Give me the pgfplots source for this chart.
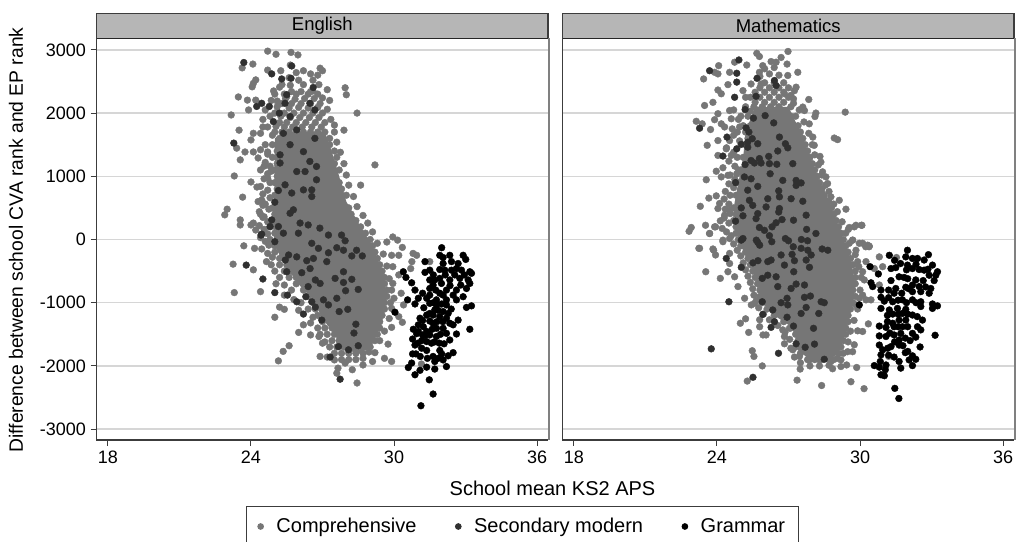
\documentclass[border=0pt]{standalone}
\usepackage{pgfplots}
\usepackage{fontspec}
\setmainfont{Liberation Sans}
\pgfplotsset{compat=1.18}
\definecolor{comp}{HTML}{767676}
\definecolor{secm}{HTML}{303030}
\definecolor{strip}{HTML}{B6B6B6}
\definecolor{gridc}{HTML}{D6D6D6}
\definecolor{frame}{HTML}{3C3C3C}
\pgfplotsset{
  panel/.style={
    anchor=south west, scale only axis, height=401pt,
    xmin=17.52, xmax=36.46, ymin=-3172, ymax=3172,
    xtick={18,24,30,36}, ytick={-3000,-2000,...,3000},
    ymajorgrids, grid style={gridc,line width=1.4pt},
    axis line style={draw=none},
    xtick pos=lower, ytick pos=left, tick align=outside,
    major tick length=6pt, tick style={color=frame,line width=1pt},
    tick label style={font=\fontsize{18}{20}\selectfont},
    /pgf/number format/assume math mode=true,
    /pgf/number format/set thousands separator={},
    xticklabel style={yshift=-1pt}, yticklabel style={xshift=-1pt},
  },
  cmp/.style={only marks, mark=*, mark size=3.4pt, color=comp, mark options={draw=none,fill=comp}},
  sec/.style={only marks, mark=*, mark size=3.4pt, color=secm, mark options={draw=none,fill=secm}},
  gra/.style={only marks, mark=*, mark size=3.4pt, color=black, mark options={draw=none,fill=black}},
}
\begin{document}
\begin{tikzpicture}[x=1pt,y=1pt]
\path[use as bounding box] (0,0) rectangle (1020,541);

% English
\begin{axis}[panel, at={(96.5pt,101pt)}, width=451.5pt,
  legend columns=3,
  legend style={at={(0.9435,-0.1646)}, anchor=north, draw=frame, line width=1pt,
    font=\fontsize{20}{22}\selectfont, inner xsep=11pt, inner ysep=10pt,
    /tikz/every even column/.append style={column sep=37pt},
    /tikz/every odd column/.append style={column sep=11pt}},
  legend image post style={mark size=2.8pt},
  legend cell align=left]
% solid core where the marks overlap completely
\addplot[fill=comp,draw=none,forget plot] coordinates {
(25.4,1700)(27.1,1700)(27.3,1500)(27.7,1000)(28.0,600)(28.6,200)(29.1,-100)(29.5,-500)(29.7,-900)(29.5,-1300)(29.1,-1650)(28.6,-1800)(27.9,-1750)(27.5,-1500)(27.0,-1250)(26.6,-950)(26.1,-750)(25.5,-450)(25.0,-100)(24.9,300)(25.0,800)(25.0,1300)(25.0,1600)
};
\addplot[cmp] coordinates {
(25.4,2300)(25.9,2300)(26.4,2300)(26.8,2300)
(25.3,2150)(25.7,2150)(26.1,2150)(26.5,2150)(26.9,2150)
(25.0,2000)(25.4,2000)(25.8,2000)(26.2,2000)(26.6,2000)(27.0,2000)
(25.2,1850)(25.5,1850)(25.9,1850)(26.3,1850)(26.7,1850)(27.1,1850)
(25.0,1700)(25.3,1700)(25.6,1700)(25.9,1700)(26.2,1700)(26.5,1700)(26.8,1700)(27.1,1700)
(25.2,1600)(25.5,1600)(25.8,1600)(26.1,1600)(26.4,1600)(26.7,1600)(27.0,1600)(27.3,1600)
(24.9,1500)(25.2,1500)(25.5,1500)(25.8,1500)(26.1,1500)(26.4,1500)(26.7,1500)(27.0,1500)(27.3,1500)
(25.1,1400)(25.4,1400)(25.7,1400)(26.0,1400)(26.3,1400)(26.6,1400)(26.9,1400)(27.2,1400)(27.5,1400)
(24.9,1300)(25.2,1300)(25.5,1300)(25.8,1300)(26.1,1300)(26.4,1300)(26.7,1300)(27.0,1300)(27.3,1300)(27.6,1300)
(25.1,1200)(25.4,1200)(25.7,1200)(26.0,1200)(26.3,1200)(26.6,1200)(26.9,1200)(27.2,1200)(27.5,1200)
(25.0,1100)(25.3,1100)(25.6,1100)(25.9,1100)(26.2,1100)(26.5,1100)(26.8,1100)(27.1,1100)(27.4,1100)(27.7,1100)
(25.1,1000)(25.4,1000)(25.7,1000)(26.0,1000)(26.3,1000)(26.6,1000)(26.9,1000)(27.2,1000)(27.5,1000)
(25.0,900)(25.3,900)(25.6,900)(25.9,900)(26.2,900)(26.5,900)(26.8,900)(27.1,900)(27.4,900)(27.7,900)
(25.1,800)(25.4,800)(25.7,800)(26.0,800)(26.3,800)(26.6,800)(26.9,800)(27.2,800)(27.5,800)(27.8,800)
(25.0,700)(25.3,700)(25.6,700)(25.9,700)(26.2,700)(26.5,700)(26.8,700)(27.1,700)(27.4,700)(27.7,700)(28.0,700)
(25.1,600)(25.4,600)(25.7,600)(26.0,600)(26.3,600)(26.6,600)(26.9,600)(27.2,600)(27.5,600)(27.8,600)
(24.9,500)(25.2,500)(25.5,500)(25.8,500)(26.1,500)(26.4,500)(26.7,500)(27.0,500)(27.3,500)(27.6,500)(27.9,500)(28.1,500)
(25.0,400)(25.3,400)(25.6,400)(25.9,400)(26.2,400)(26.5,400)(26.8,400)(27.1,400)(27.4,400)(27.7,400)(28.0,400)(28.2,400)
(24.9,300)(25.2,300)(25.5,300)(25.8,300)(26.1,300)(26.4,300)(26.7,300)(27.0,300)(27.3,300)(27.6,300)(27.9,300)(28.2,300)(28.4,300)
(24.8,200)(25.1,200)(25.4,200)(25.7,200)(26.0,200)(26.3,200)(26.6,200)(26.9,200)(27.2,200)(27.5,200)(27.8,200)(28.1,200)(28.4,200)(28.6,200)
(25.0,100)(25.3,100)(25.6,100)(25.9,100)(26.2,100)(26.5,100)(26.8,100)(27.1,100)(27.4,100)(27.7,100)(28.0,100)(28.3,100)(28.6,100)(28.8,100)
(24.8,0)(25.1,0)(25.4,0)(25.7,0)(26.0,0)(26.3,0)(26.6,0)(26.9,0)(27.2,0)(27.5,0)(27.8,0)(28.1,0)(28.4,0)(28.7,0)(29.0,0)
(25.0,-100)(25.3,-100)(25.6,-100)(25.9,-100)(26.2,-100)(26.5,-100)(26.8,-100)(27.1,-100)(27.4,-100)(27.7,-100)(28.0,-100)(28.3,-100)(28.6,-100)(28.9,-100)(29.1,-100)
(25.0,-200)(25.3,-200)(25.6,-200)(25.9,-200)(26.2,-200)(26.5,-200)(26.8,-200)(27.1,-200)(27.4,-200)(27.7,-200)(28.0,-200)(28.3,-200)(28.6,-200)(28.9,-200)(29.2,-200)
(25.2,-300)(25.5,-300)(25.8,-300)(26.1,-300)(26.4,-300)(26.7,-300)(27.0,-300)(27.3,-300)(27.6,-300)(27.9,-300)(28.2,-300)(28.5,-300)(28.8,-300)(29.1,-300)(29.3,-300)
(25.2,-400)(25.5,-400)(25.8,-400)(26.1,-400)(26.4,-400)(26.7,-400)(27.0,-400)(27.3,-400)(27.6,-400)(27.9,-400)(28.2,-400)(28.5,-400)(28.8,-400)(29.1,-400)(29.4,-400)
(25.4,-500)(25.7,-500)(26.0,-500)(26.3,-500)(26.6,-500)(26.9,-500)(27.2,-500)(27.5,-500)(27.8,-500)(28.1,-500)(28.4,-500)(28.7,-500)(29.0,-500)(29.3,-500)(29.5,-500)
(25.6,-600)(25.9,-600)(26.2,-600)(26.5,-600)(26.8,-600)(27.1,-600)(27.4,-600)(27.7,-600)(28.0,-600)(28.3,-600)(28.6,-600)(28.9,-600)(29.2,-600)(29.5,-600)(29.6,-600)
(25.9,-700)(26.2,-700)(26.5,-700)(26.8,-700)(27.1,-700)(27.4,-700)(27.7,-700)(28.0,-700)(28.3,-700)(28.6,-700)(28.9,-700)(29.2,-700)(29.5,-700)(29.6,-700)
(26.2,-800)(26.5,-800)(26.8,-800)(27.1,-800)(27.4,-800)(27.7,-800)(28.0,-800)(28.3,-800)(28.6,-800)(28.9,-800)(29.2,-800)(29.5,-800)(29.7,-800)
(26.4,-900)(26.7,-900)(27.0,-900)(27.3,-900)(27.6,-900)(27.9,-900)(28.2,-900)(28.5,-900)(28.8,-900)(29.1,-900)(29.4,-900)(29.7,-900)
(26.6,-1000)(26.9,-1000)(27.2,-1000)(27.5,-1000)(27.8,-1000)(28.1,-1000)(28.4,-1000)(28.7,-1000)(29.0,-1000)(29.3,-1000)(29.6,-1000)
(26.7,-1100)(27.0,-1100)(27.3,-1100)(27.6,-1100)(27.9,-1100)(28.2,-1100)(28.5,-1100)(28.8,-1100)(29.1,-1100)(29.4,-1100)(29.6,-1100)
(26.8,-1200)(27.1,-1200)(27.4,-1200)(27.7,-1200)(28.0,-1200)(28.3,-1200)(28.6,-1200)(28.9,-1200)(29.2,-1200)(29.5,-1200)
(27.0,-1300)(27.3,-1300)(27.6,-1300)(27.9,-1300)(28.2,-1300)(28.5,-1300)(28.8,-1300)(29.1,-1300)(29.4,-1300)
(27.1,-1400)(27.4,-1400)(27.7,-1400)(28.0,-1400)(28.3,-1400)(28.6,-1400)(28.9,-1400)(29.2,-1400)(29.4,-1400)
(27.2,-1500)(27.5,-1500)(27.8,-1500)(28.1,-1500)(28.4,-1500)(28.7,-1500)(29.0,-1500)(29.3,-1500)
(27.4,-1600)(27.7,-1600)(28.0,-1600)(28.3,-1600)(28.6,-1600)(28.9,-1600)(29.2,-1600)
(27.6,-1700)(27.9,-1700)(28.2,-1700)(28.5,-1700)(28.8,-1700)(29.0,-1700)
(27.8,-1800)(28.1,-1800)(28.4,-1800)(28.7,-1800)
(24.6,1500)(24.4,1420)(24.7,1350)(24.3,1290)(24.6,1220)(24.8,1160)(24.4,1100)(24.7,1040)(24.55,960)(24.8,900)(24.4,840)(24.7,780)(24.5,720)(24.8,660)(24.3,600)
(24.6,560)(24.75,480)(24.35,440)(24.55,360)(24.7,280)(24.35,220)(24.55,160)(24.7,90)(24.4,30)(24.6,-30)(24.75,-90)(24.45,-150)(24.7,-220)(24.9,-280)(24.85,-400)
(25.0,-500)(25.2,-600)(25.05,-700)(25.4,-720)(25.7,-800)(25.4,-880)(25.8,-950)(26.1,-1000)(26.0,-1120)(26.4,-1100)(26.6,-1230)(26.5,-1320)(26.8,-1400)(26.9,-1500)
(27.1,-1620)(27.3,-1700)(27.5,-1800)(27.8,-1900)(28.1,-1900)(28.4,-1900)(28.7,-1880)(28.95,-1780)(29.2,-1790)(29.4,-1600)(29.6,-1450)(29.8,-1250)(29.85,-1000)
(29.9,-800)(29.8,-620)(29.7,-420)(29.55,-230)(29.3,-60)(29.1,120)(28.9,260)(28.7,380)(28.45,520)(28.3,680)(28.1,860)(28.0,1020)(27.9,1200)(27.75,1380)(27.6,1540)
(27.5,1700)(27.35,1900)(27.2,2060)(27.3,2200)
(25.1,2100)(25.6,2080)(26.0,2090)(26.4,2080)(26.8,2090)(25.45,2230)(25.85,2220)(26.25,2230)(26.65,2230)(25.7,2340)(26.1,2340)(26.6,2350)(25.25,1950)(25.65,1930)
(26.05,1930)(26.45,1930)(26.85,1930)(25.05,1790)(25.4,1780)(25.75,1780)(26.15,1780)(26.55,1780)(26.95,1780)(24.9,1650)(24.7,1780)(24.5,1900)(24.8,1950)(24.6,2050)
(24.85,2200)(25.0,2300)(25.3,2450)(25.6,2560)(26.2,2450)(26.5,2620)(26.85,2450)(25.9,2640)
(24.7,2980)(25.05,2930)(25.68,2960)(25.97,2920)(24.08,2775)(23.63,2715)(23.47,2255)(23.17,1970)(23.5,1730)(23.85,2205)
(24.1,2470)(24.2,2525)(24.05,2415)(23.9,2050)(24.2,2205)(23.4,1445)(24,1575)(24.1,1680)(24.4,1680)(24.5,1780)
(23.75,1385)(24.1,1385)(23.55,1260)(24.7,1385)(24.55,1160)(24.85,1080)(23.3,1005)(24,910)(24.25,830)(24.7,970)
(23.65,670)(24.45,625)(24.5,540)(23,480)(22.9,390)(23.55,310)(23.55,230)(24.1,260)(24,230)(24.2,150)(24.4,400)(24.5,350)
(24.7,2680)(25.25,2670)(25.65,2760)(26.2,2670)(26.9,2710)(27,2670)(26.8,2600)(26.6,2520)(26,2520)(25.65,2440)(25.2,2410)
(24.95,2350)(25.5,2260)(26.5,2340)(27,2240)(27.2,2370)(25.1,2190)(27.95,2400)(28,2290)(28.45,2000)(29.2,1180)(28.6,860)(27.9,1730)(27.5,1810)
(23.7,-100)(24.15,-140)(23.25,-390)(24.1,-480)(24.65,-350)(23.3,-840)(24.4,-825)(25,-1230)(25.2,-1070)(25.4,-1105)
(25.15,-1920)(25.35,-1770)(25.6,-1680)(26,-1470)(26.2,-1350)(26.5,-1510)(26.85,-1535)(27,-1640)(26.9,-1850)(27.2,-1860)
(27.5,-1905)(27.65,-2035)(27.6,-2115)(27.95,-1955)(28.25,-2060)(28.45,-2270)(28.7,-1985)(29.1,-1930)(29.6,-1880)(29.9,-1930)
(29.75,-1655)(29.9,-1390)(30.35,-1310)(30.2,-1220)(29.9,-1090)(30.4,-1035)(30.3,-850)(30,-930)(29.95,-695)(30.2,-560)
(29.95,-430)(30.2,-250)(30.35,-125)(30.15,-10)(29.95,40)(29.7,-40)(29.9,-250)(30.8,-220)(30.95,-250)(30.75,-350)(30.7,-460)(31.5,-350)(31.15,-1970)
};
\addlegendentry{Comprehensive}
\addplot[sec] coordinates {
(23.7,2800)(23.28,1525)(24.24,2105)(24.45,2155)(24.77,2105)(25.71,2745)(24.87,2620)(25.29,2540)(25.68,2550)(25.5,2290)
(25.43,2155)(26.61,2405)(26.47,2155)(26.68,2050)(25.19,2000)(25.64,1945)(24.94,1865)(25.36,1680)(25.92,1735)(25.64,1500)
(25.22,1340)(25.22,1210)(26.2,1390)(26.47,1235)(26.75,1155)(26.68,1600)(26.27,1075)(25.92,1075)(26.75,945)(25.43,865)
(25.15,775)(25.71,735)(26.2,785)(26.55,785)(26.55,680)(25,590)(25.78,470)(25.64,415)(24.87,310)(24.8,205)(25.15,205)
(26.06,260)(26.4,230)(26.89,180)(25.99,100)(24.45,85)(25.36,100)
(24.42,70)(25,-35)(23.8,-405)(24.5,-625)(25,-840)(25.5,-510)(25.58,-245)(25.92,-275)(25.44,-325)(26.13,-525)(26.34,-335)
(26.62,-300)(26.48,-460)(27.25,70)(26.55,-60)(26.83,-140)(27.25,-210)(27.6,-130)(27.88,-170)(28.43,-170)(28.67,-260)
(28.23,-260)(27.8,70)(27.95,-20)(27.18,-350)(27.88,-510)(27.53,-615)(27.88,-680)(28.23,-630)(28.5,-790)(27.97,-810)
(26.7,-640)(26.9,-695)(26.4,-745)(26.3,-905)(25.92,-985)(25.53,-880)(26.55,-985)(26.7,-1070)(27.04,-955)(27.25,-1035)
(27.6,-930)(26.2,-1180)(26.97,-1275)(27.7,-1140)(28.06,-1105)(28.4,-1340)(28.32,-1480)(28.5,-1680)(27.67,-1695)
(28.09,-1745)(27.32,-1860)(27.74,-2210)
};
\addlegendentry{Secondary modern}
\addplot[gra] coordinates {
(32.0,-130)(32.34,-250)(32.06,-285)(31.92,-250)(32.41,-350)(32.06,-380)(32.9,-250)(33.01,-315)(31.3,-350)(31.5,-485)
(32.69,-380)(32.62,-460)(31.92,-475)(32.13,-485)(32.41,-485)(32.83,-485)(33.18,-510)(33.25,-535)(30.39,-510)(30.5,-600)
(30.74,-685)(31.5,-640)(31.71,-640)(31.92,-615)(32.34,-640)(32.76,-615)(33.11,-640)(31.64,-720)(31.99,-695)(33.18,-695)
(30.88,-800)(31.5,-775)(32.2,-800)(31.92,-850)(32.62,-800)(33.04,-775)(31.5,-880)(32.06,-880)(32.48,-880)(32.9,-905)
(31.02,-930)(31.37,-930)(31.78,-955)(32.2,-955)(32.62,-955)(30.57,-955)(30.88,-1020)(31.5,-1010)(31.78,-1035)(32.2,-1035)
(33.04,-1075)(33.25,-1050)(31.71,-1115)(32.06,-1140)(32.27,-1170)(30.04,-1150)(31.5,-1170)(31.09,-1245)(31.37,-1195)
(31.64,-1195)(31.92,-1220)(32.2,-1245)(32.69,-1275)(32.34,-1325)(32.48,-1350)(31.02,-1350)(31.23,-1380)(31.64,-1325)
(30.81,-1420)(31.02,-1455)(31.37,-1455)(31.78,-1405)(32.06,-1405)(33.18,-1420)(31.5,-1510)(31.78,-1535)(32.2,-1485)
(32.62,-1495)(30.78,-1575)(31.16,-1600)(32.34,-1590)(31.37,-1615)(30.88,-1670)(31.57,-1640)(31.16,-1720)(31.37,-1755)
(31.92,-1755)(30.78,-1810)(30.92,-1810)(32.48,-1790)(32.27,-1840)(31.64,-1850)(31.85,-1880)(32.06,-1905)(31.71,-1930)
(31.37,-2020)(30.74,-1955)(30.6,-2025)(32.2,-2010)(31.71,-2050)(31.09,-2070)(30.88,-2140)(31.48,-2220)(31.64,-2445)(31.13,-2630)
(31.3,-520)(31.65,-560)(32.15,-560)(32.55,-560)(32.95,-560)(31.75,-800)(32.35,-730)(32.8,-720)(31.2,-850)(31.65,-1000)
(32.0,-1020)(32.4,-1100)(31.25,-1080)(31.85,-1120)(31.2,-1280)(31.5,-1290)(31.8,-1300)(32.05,-1300)(30.95,-1490)(31.2,-1510)
(31.6,-1420)(31.95,-1500)(31.0,-1640)(31.3,-1520)(31.7,-1620)(31.9,-1640)(32.1,-1650)(31.1,-1850)(31.4,-1880)(32.0,-1810)
};
\addlegendentry{Grammar}
\end{axis}

% Mathematics
\begin{axis}[panel, at={(562.5pt,101pt)}, width=451.5pt,
  yticklabels={}, ytick style={draw=none}]
\addplot[fill=comp,draw=none,forget plot] coordinates {
(25.6,2100)(27.0,2100)(27.5,1700)(27.9,1300)(28.2,1000)(28.6,700)(29.0,300)(29.3,0)(29.6,-300)(29.8,-700)(29.7,-1000)(29.5,-1300)(29.3,-1600)(29.1,-1800)(28.7,-1900)(27.9,-1900)(27.4,-1750)(27.3,-1500)(27.0,-1350)(26.4,-1200)(25.9,-1000)(25.7,-700)(25.4,-400)(25.0,-100)(24.8,200)(24.7,500)(24.9,900)(25.1,1300)(25.2,1700)
};
\addplot[cmp] coordinates {
(25.8,2400)(26.2,2400)(26.6,2400)(27.0,2400)
(25.4,2250)(25.8,2250)(26.2,2250)(26.6,2250)(27.0,2250)
(25.2,2100)(25.55,2100)(25.9,2100)(26.25,2100)(26.6,2100)(27.1,2100)
(25.0,1950)(25.3,1950)(25.6,1950)(25.9,1950)(26.2,1950)(26.5,1950)(26.8,1950)(27.1,1950)(27.3,1950)
(25.1,1800)(25.4,1800)(25.7,1800)(26.0,1800)(26.3,1800)(26.6,1800)(26.9,1800)(27.2,1800)(27.4,1800)
(25.2,1700)(25.5,1700)(25.8,1700)(26.1,1700)(26.4,1700)(26.7,1700)(27.0,1700)(27.3,1700)(27.5,1700)
(25.3,1600)(25.6,1600)(25.9,1600)(26.2,1600)(26.5,1600)(26.8,1600)(27.1,1600)(27.4,1600)(27.6,1600)
(25.2,1500)(25.5,1500)(25.8,1500)(26.1,1500)(26.4,1500)(26.7,1500)(27.0,1500)(27.3,1500)(27.6,1500)(27.7,1500)
(25.3,1400)(25.6,1400)(25.9,1400)(26.2,1400)(26.5,1400)(26.8,1400)(27.1,1400)(27.4,1400)(27.7,1400)(27.8,1400)
(25.1,1300)(25.4,1300)(25.7,1300)(26.0,1300)(26.3,1300)(26.6,1300)(26.9,1300)(27.2,1300)(27.5,1300)(27.8,1300)(27.9,1300)
(25.2,1200)(25.5,1200)(25.8,1200)(26.1,1200)(26.4,1200)(26.7,1200)(27.0,1200)(27.3,1200)(27.6,1200)(27.9,1200)(28.0,1200)
(25.0,1100)(25.3,1100)(25.6,1100)(25.9,1100)(26.2,1100)(26.5,1100)(26.8,1100)(27.1,1100)(27.4,1100)(27.7,1100)(28.0,1100)(28.1,1100)
(25.1,1000)(25.4,1000)(25.7,1000)(26.0,1000)(26.3,1000)(26.6,1000)(26.9,1000)(27.2,1000)(27.5,1000)(27.8,1000)(28.1,1000)(28.2,1000)
(24.9,900)(25.2,900)(25.5,900)(25.8,900)(26.1,900)(26.4,900)(26.7,900)(27.0,900)(27.3,900)(27.6,900)(27.9,900)(28.2,900)(28.3,900)
(25.0,800)(25.3,800)(25.6,800)(25.9,800)(26.2,800)(26.5,800)(26.8,800)(27.1,800)(27.4,800)(27.7,800)(28.0,800)(28.3,800)(28.4,800)
(24.8,700)(25.1,700)(25.4,700)(25.7,700)(26.0,700)(26.3,700)(26.6,700)(26.9,700)(27.2,700)(27.5,700)(27.8,700)(28.1,700)(28.4,700)(28.5,700)
(24.9,600)(25.2,600)(25.5,600)(25.8,600)(26.1,600)(26.4,600)(26.7,600)(27.0,600)(27.3,600)(27.6,600)(27.9,600)(28.2,600)(28.5,600)(28.7,600)
(24.7,500)(25.0,500)(25.3,500)(25.6,500)(25.9,500)(26.2,500)(26.5,500)(26.8,500)(27.1,500)(27.4,500)(27.7,500)(28.0,500)(28.3,500)(28.6,500)(28.8,500)
(24.8,400)(25.1,400)(25.4,400)(25.7,400)(26.0,400)(26.3,400)(26.6,400)(26.9,400)(27.2,400)(27.5,400)(27.8,400)(28.1,400)(28.4,400)(28.7,400)(28.9,400)
(24.7,300)(25.0,300)(25.3,300)(25.6,300)(25.9,300)(26.2,300)(26.5,300)(26.8,300)(27.1,300)(27.4,300)(27.7,300)(28.0,300)(28.3,300)(28.6,300)(28.9,300)(29.0,300)
(24.8,200)(25.1,200)(25.4,200)(25.7,200)(26.0,200)(26.3,200)(26.6,200)(26.9,200)(27.2,200)(27.5,200)(27.8,200)(28.1,200)(28.4,200)(28.7,200)(29.0,200)(29.1,200)
(24.8,100)(25.1,100)(25.4,100)(25.7,100)(26.0,100)(26.3,100)(26.6,100)(26.9,100)(27.2,100)(27.5,100)(27.8,100)(28.1,100)(28.4,100)(28.7,100)(29.0,100)(29.2,100)
(24.9,0)(25.2,0)(25.5,0)(25.8,0)(26.1,0)(26.4,0)(26.7,0)(27.0,0)(27.3,0)(27.6,0)(27.9,0)(28.2,0)(28.5,0)(28.8,0)(29.1,0)(29.3,0)
(25.0,-100)(25.3,-100)(25.6,-100)(25.9,-100)(26.2,-100)(26.5,-100)(26.8,-100)(27.1,-100)(27.4,-100)(27.7,-100)(28.0,-100)(28.3,-100)(28.6,-100)(28.9,-100)(29.2,-100)(29.4,-100)
(25.2,-200)(25.5,-200)(25.8,-200)(26.1,-200)(26.4,-200)(26.7,-200)(27.0,-200)(27.3,-200)(27.6,-200)(27.9,-200)(28.2,-200)(28.5,-200)(28.8,-200)(29.1,-200)(29.5,-200)
(25.3,-300)(25.6,-300)(25.9,-300)(26.2,-300)(26.5,-300)(26.8,-300)(27.1,-300)(27.4,-300)(27.7,-300)(28.0,-300)(28.3,-300)(28.6,-300)(28.9,-300)(29.2,-300)(29.6,-300)
(25.4,-400)(25.7,-400)(26.0,-400)(26.3,-400)(26.6,-400)(26.9,-400)(27.2,-400)(27.5,-400)(27.8,-400)(28.1,-400)(28.4,-400)(28.7,-400)(29.0,-400)(29.3,-400)(29.7,-400)
(25.5,-500)(25.8,-500)(26.1,-500)(26.4,-500)(26.7,-500)(27.0,-500)(27.3,-500)(27.6,-500)(27.9,-500)(28.2,-500)(28.5,-500)(28.8,-500)(29.1,-500)(29.4,-500)(29.8,-500)
(25.6,-600)(25.9,-600)(26.2,-600)(26.5,-600)(26.8,-600)(27.1,-600)(27.4,-600)(27.7,-600)(28.0,-600)(28.3,-600)(28.6,-600)(28.9,-600)(29.2,-600)(29.5,-600)(29.8,-600)
(25.7,-700)(26.0,-700)(26.3,-700)(26.6,-700)(26.9,-700)(27.2,-700)(27.5,-700)(27.8,-700)(28.1,-700)(28.4,-700)(28.7,-700)(29.0,-700)(29.3,-700)(29.6,-700)(29.8,-700)
(25.8,-800)(26.1,-800)(26.4,-800)(26.7,-800)(27.0,-800)(27.3,-800)(27.6,-800)(27.9,-800)(28.2,-800)(28.5,-800)(28.8,-800)(29.1,-800)(29.4,-800)(29.7,-800)
(25.8,-900)(26.1,-900)(26.4,-900)(26.7,-900)(27.0,-900)(27.3,-900)(27.6,-900)(27.9,-900)(28.2,-900)(28.5,-900)(28.8,-900)(29.1,-900)(29.4,-900)(29.8,-900)
(25.9,-1000)(26.2,-1000)(26.5,-1000)(26.8,-1000)(27.1,-1000)(27.4,-1000)(27.7,-1000)(28.0,-1000)(28.3,-1000)(28.6,-1000)(28.9,-1000)(29.2,-1000)(29.5,-1000)(29.7,-1000)
(26.1,-1100)(26.4,-1100)(26.7,-1100)(27.0,-1100)(27.3,-1100)(27.6,-1100)(27.9,-1100)(28.2,-1100)(28.5,-1100)(28.8,-1100)(29.1,-1100)(29.4,-1100)(29.6,-1100)
(26.4,-1200)(26.7,-1200)(27.0,-1200)(27.3,-1200)(27.6,-1200)(27.9,-1200)(28.2,-1200)(28.5,-1200)(28.8,-1200)(29.1,-1200)(29.5,-1200)
(26.8,-1300)(27.1,-1300)(27.4,-1300)(27.7,-1300)(28.0,-1300)(28.3,-1300)(28.6,-1300)(28.9,-1300)(29.2,-1300)(29.5,-1300)
(27.1,-1400)(27.4,-1400)(27.7,-1400)(28.0,-1400)(28.3,-1400)(28.6,-1400)(28.9,-1400)(29.2,-1400)(29.4,-1400)
(27.3,-1500)(27.6,-1500)(27.9,-1500)(28.2,-1500)(28.5,-1500)(28.8,-1500)(29.1,-1500)(29.4,-1500)
(27.4,-1600)(27.7,-1600)(28.0,-1600)(28.3,-1600)(28.6,-1600)(28.9,-1600)(29.3,-1600)
(27.3,-1700)(27.6,-1700)(27.9,-1700)(28.2,-1700)(28.5,-1700)(28.8,-1700)(29.2,-1700)
(27.5,-1800)(27.8,-1800)(28.1,-1800)(28.4,-1800)(28.7,-1800)(29.1,-1800)
(27.8,-1900)(28.1,-1900)(28.4,-1900)(28.7,-1900)(28.9,-1900)
(24.4,1450)(24.7,1380)(24.85,1300)(24.5,1240)(24.75,1160)(24.9,1100)(24.55,1020)(24.75,950)(24.5,880)(24.7,820)(24.35,760)(24.55,700)(24.3,640)(24.5,560)(24.35,480)
(24.55,410)(24.3,340)(24.5,260)(24.4,120)(24.6,60)(24.7,-70)(24.85,-170)(25.0,-260)(25.1,-370)(25.2,-480)(25.3,-580)(25.4,-680)(25.5,-780)(25.55,-880)(25.65,-970)
(25.75,-1080)(25.95,-1180)(26.2,-1270)(26.55,-1360)(26.85,-1470)(27.05,-1580)(27.1,-1720)(27.25,-1860)(27.5,-1950)(27.9,-2000)(28.3,-2000)(28.7,-1990)(29.05,-1880)
(29.3,-1800)(29.5,-1620)(29.6,-1450)(29.75,-1280)(29.9,-1100)(30.0,-800)(30.05,-600)(29.95,-430)(29.8,-240)(29.55,-60)(29.4,100)(29.25,280)(29.05,440)(28.9,560)
(28.7,760)(28.55,860)(28.4,1020)(28.25,1180)(28.1,1340)(28.0,1500)(27.85,1680)(27.65,1860)(27.45,2050)
(25.4,2030)(25.75,2030)(26.1,2030)(26.45,2030)(26.8,2030)(25.6,2170)(26.0,2170)(26.4,2170)(26.8,2170)(25.2,2250)(25.6,2330)(26.0,2330)(26.4,2330)(26.8,2330)(27.1,2280)
(26.0,2480)(26.4,2480)(26.8,2480)(25.8,2580)(26.2,2620)(26.6,2600)(26.0,2700)(26.4,2720)(24.9,1900)(24.7,2050)(24.85,1700)(24.95,1560)(24.7,1650)
(25.67,2945)(25.78,2895)(26.98,2975)(26.69,2880)(26.27,2815)(26.48,2805)(26.94,2775)(24.74,2805)(24.07,2750)(25.25,2760)
(24.53,2645)(23.9,2645)(24.04,2620)(23.44,2540)(25.92,2750)(25.78,2645)(27.39,2645)(26.97,2595)(24.46,2450)(25.43,2460)
(25.85,2460)(27.32,2410)(27.25,2355)(24.04,2365)(24.18,2305)(25.09,2355)(26.83,2305)(27.21,2225)(27.21,2155)(27.85,2215)
(23.83,2170)(23.48,2120)(27.6,2095)(27.67,2040)(28.15,2000)(28.11,1945)(29.38,2015)(24.53,2040)(24.04,1990)(24.6,1910)
(23.9,1895)(23.13,1870)(23.38,1830)(24.18,1830)(24.32,1780)(23.73,1740)(24.64,1750)(24.95,1780)(27.87,1830)(24.04,1565)
(23.59,1490)(24.53,1565)(24.39,1435)(28.02,1620)(28.92,1605)(29.06,1580)(28.08,1490)(24.04,1330)(24.6,1330)(28.32,1315)
(28.36,1225)(24.25,1135)(23.97,1080)(23.55,945)(24.18,990)(24.46,1015)(24.83,1040)(28.43,1070)(28.57,990)(28.64,885)
(23.97,690)(23.66,655)(24.11,570)(23.3,525)(24.04,490)(24.53,465)(24.32,385)(29.13,620)(28.78,675)(29.41,480)
(22.92,190)(22.83,130)(23.52,225)(23.9,200)(24.14,295)(23.69,95)(24.22,175)(29.76,200)(30.06,225)(29.51,160)
(24.53,15)(24.25,-10)(23.24,-140)(23.83,-150)(30.24,-115)(30.38,-115)(29.69,-10)(29.97,-60)
(23.69,95)(23.94,200)(23.27,-140)(23.86,-170)(23.94,-245)(23.53,-510)(24.25,-35)(24.53,-220)(24.14,-615)(24.53,-380)
(24.46,-510)(24.74,-590)(24.88,-745)(25.16,-930)(25.44,-1035)(24.98,-1325)(25.2,-1255)(25.33,-1470)(25.79,-1380)(25.93,-1510)
(25.48,-1760)(25.55,-1850)(25.9,-2000)(25.27,-2240)(27.36,-2225)(27.49,-2050)(28.39,-2310)(29.62,-2250)(30.17,-2360)(28.85,-2045)
(29.2,-2010)(29.44,-1985)(29.86,-2025)(29.48,-1775)(29.76,-1665)(29.69,-1775)(29.9,-1445)(30.11,-1455)(30.35,-1335)(26.83,-1535)
(26.83,-1650)(27.18,-1745)(27.46,-1850)(27.88,-1905)(28.3,-1905)(28.78,-1930)(29.2,-1905)(26.76,-1430)(27.04,-1405)(26.06,-1510)
(25.79,-1270)(25.58,-1010)(30.25,-955)(30.46,-955)(30.11,-880)(29.97,-930)(29.83,-1035)(30.18,-640)(30.25,-350)(30.6,-460)
(30.95,-430)(30.81,-275)(31.53,-285)(30.81,-720)(31.2,-1850)(30.11,-510)(30.32,-90)(30.39,-105)(30.11,-60)(29.83,225)
(30.08,225)(29.55,190)(29.69,-10)(29.83,-170)(29.9,-350)
};
\addplot[sec] coordinates {
(24.92,2840)(23.69,2670)(24.83,2630)(24.83,2490)(25.68,2550)(26.41,2515)(26.48,2435)(24.74,2250)(25.64,2265)(25.18,2055)
(26.02,1960)(25.53,1920)(26.38,1845)(25.22,1765)(23.27,1760)(25.34,1700)(24.42,1620)(25.48,1595)(26.62,1620)(25.29,1540)
(25.02,1505)(25.71,1515)(24.83,1435)(25.29,1460)(26.87,1515)(26.97,1450)(26.55,1400)(24.25,1320)(26.17,1315)(25.43,1250)
(25.78,1280)(25.18,1185)(25.57,1210)(25.85,1210)(26.2,1200)(26.51,1190)(27.18,1200)(26.23,1040)(25.15,990)(25.43,960)
(26.76,935)(24.78,900)(25.71,840)(25.29,780)(27.32,935)(27.32,855)(27.53,895)(26.59,770)(26.62,675)(27.11,645)(27.6,605)
(25.36,620)(25.5,540)(26.13,645)(26.06,515)(25.02,500)(25.09,375)(26.62,490)(25.71,410)(26.59,435)(27.74,385)(24.78,290)
(25.64,330)(26.73,315)(27.21,305)(26.48,265)(26.31,200)(25.78,190)(25.99,145)(27.76,160)(28.15,95)(26.2,60)(25.09,15)
(26.87,15)(27.54,0)(27.8,-20)(26.3,-35)(25.71,-45)(27.2,-115)
(25.02,-10)(25.65,-10)(25.79,-90)(27.0,-20)(24.39,-300)(25.02,-440)(25.51,-370)(25.72,-335)(26.13,-350)(26.27,-325)
(26.69,-245)(27.15,-235)(27.25,-335)(27.53,-140)(27.81,-170)(27.95,-245)(28.41,-150)(28.65,-170)(27.74,-325)(26.83,-405)
(27.22,-510)(27.88,-440)(26.13,-565)(26.48,-590)(25.9,-615)(27.67,-720)(27.32,-705)(27.11,-775)(26.55,-745)(24.5,-985)
(25.9,-985)(26.69,-1000)(26.94,-930)(26.97,-1035)(27.67,-915)(27.92,-895)(28.37,-985)(28.5,-1000)(27.53,-1170)(27.74,-1075)
(26.34,-1115)(25.92,-1185)(28.27,-1170)(26.94,-1230)(26.41,-1300)(26.27,-1390)(27.21,-1370)(28.05,-1405)(27.32,-1650)
(27.7,-1705)(28.09,-1655)(26.58,-1800)(28.5,-1895)(25.51,-2180)(23.76,-1730)
};
\addplot[gra] coordinates {
(31.99,-170)(31.23,-250)(32.87,-240)(31.92,-275)(32.2,-300)(32.41,-300)(32.69,-325)(31.99,-405)(33.04,-405)(31.3,-460)
(31.5,-445)(30.42,-430)(32.2,-460)(32.48,-475)(32.69,-485)(30.77,-545)(33.25,-510)(33.18,-565)(32.9,-565)(31.64,-590)
(31.85,-600)(32.34,-640)(33.11,-650)(30.46,-685)(30.53,-745)(31.5,-775)(32.2,-720)(32.48,-745)(31.92,-755)(32.97,-775)
(30.88,-800)(31.43,-850)(32.2,-825)(32.55,-825)(32.9,-850)(30.88,-915)(31.02,-975)(31.37,-985)(31.78,-955)(32.2,-955)
(32.55,-985)(29.97,-1035)(33.04,-1020)(33.25,-1050)(30.88,-1090)(31.23,-1115)(31.57,-1090)(31.92,-1105)(32.55,-1060)
(33.04,-1090)(31.37,-1180)(31.78,-1170)(32.2,-1195)(31.92,-1275)(32.62,-1275)(31.64,-1275)(31.37,-1325)(31.78,-1380)
(32.41,-1380)(30.81,-1370)(31.09,-1390)(31.43,-1380)(32.55,-1430)(30.81,-1525)(31.09,-1535)(31.43,-1510)(31.71,-1485)
(32.2,-1485)(33.15,-1515)(32.34,-1545)(31.64,-1590)(30.81,-1670)(31.3,-1695)(31.64,-1670)(32.52,-1700)(30.95,-1745)
(31.16,-1720)(30.88,-1825)(31.9,-1790)(32.2,-1840)(31.43,-1860)(31.64,-1930)(32.34,-1895)(32.06,-1905)(32.2,-1995)
(30.6,-1995)(30.81,-2020)(31.09,-1985)(31.71,-2035)(31.06,-2060)(30.88,-2140)(31.02,-2155)(31.46,-2355)(31.63,-2515)
(31.45,-330)(31.7,-380)(31.95,-480)(32.35,-390)(32.85,-470)(32.0,-620)(32.65,-650)(31.3,-650)(31.2,-800)(31.75,-850)
(32.05,-780)(32.75,-750)(31.2,-920)(31.6,-960)(31.95,-1000)(32.35,-1000)(31.15,-1200)(31.6,-1180)(32.0,-1180)(32.4,-1220)
(31.15,-1300)(31.6,-1380)(32.0,-1380)(31.25,-1480)(31.9,-1560)(32.1,-1600)(31.45,-1620)(31.2,-1830)(31.8,-1680)(32.0,-1770)(30.85,-1930)
};
\end{axis}

% panel frames and strips
\foreach \xa/\xb/\lab in {96.5/548/English,562.5/1014/Mathematics}{
  \fill[strip] (\xa,502.5) rectangle (\xb,527.5);
  \draw[frame,line width=1.3pt] (\xa,502.5) rectangle (\xb,527.5);
  \draw[black!85,line width=1.3pt] (\xa,502.5) -- (\xb,502.5);
  \draw[frame,line width=1.3pt] (\xa,502.5) -- (\xa,101) -- (\xb,101);
  \draw[black!50,line width=1.5pt] (\xb+1,502.5) -- (\xb+1,101);
  \node[font=\fontsize{18.5}{20}\selectfont,anchor=center] at ({(\xa+\xb)/2},515) {\lab};
}
\node[font=\fontsize{19.3}{21}\selectfont,rotate=90,anchor=center] at (16,301) {Difference between school CVA rank and EP rank};
\node[font=\fontsize{20}{22}\selectfont,anchor=center] at (552.5,53) {School mean KS2 APS};
\end{tikzpicture}
\end{document}
